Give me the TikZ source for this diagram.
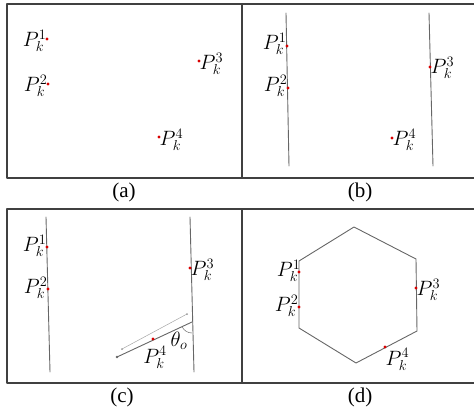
\documentclass[tikz,border=0pt]{standalone}
\usepackage{fontspec}
\setmainfont{Liberation Serif}
\begin{document}
\begin{tikzpicture}[x=1pt,y=-1pt,font=\fontsize{20}{24}\selectfont,line join=round,line cap=round,>=stealth,
  frame/.style={line width=1.4pt,black!75},
  edge/.style={line width=0.9pt,black!60},
  pt/.style={red!85!black},
  lbl/.style={inner sep=0.5pt},
  subcap/.style={font=\fontsize{21}{25}\selectfont}]
\useasboundingbox (0,0) rectangle (474,415);
% frames
\draw[frame] (474,4) -- (7,4) -- (7,178) -- (474,178);
\draw[frame] (242,4) -- (242,178);
\draw[frame] (474,209) -- (7,209) -- (7,383) -- (474,383);
\draw[frame] (242,209) -- (242,383);
\node[subcap] at (124,192) {(a)};
\node[subcap] at (360,192) {(b)};
\node[subcap] at (122,397) {(c)};
\node[subcap] at (360,397) {(d)};
% (a)
\coordinate (A1) at (47,39);
\coordinate (A2) at (48,84);
\coordinate (A3) at (199,61);
\coordinate (A4) at (159,137);
\foreach \p in {A1,A2,A3,A4} \fill[pt] (\p) circle (1.6);
\node[lbl,anchor=east] at ([yshift=-2]A1) {$P_k^1$};
\node[lbl,anchor=east] at ([yshift=-2]A2) {$P_k^2$};
\node[lbl,anchor=west] at ([yshift=-3]A3) {$P_k^3$};
\node[lbl,anchor=west] at ([yshift=-3]A4) {$P_k^4$};
% (b)
\draw[edge] (286,13) -- (289,166);
\draw[edge] (429,13) -- (433,166);
\coordinate (B1) at (287,46);
\coordinate (B2) at (288,88);
\coordinate (B3) at (430,67);
\coordinate (B4) at (392,138);
\foreach \p in {B1,B2,B3,B4} \fill[pt] (\p) circle (1.6);
\node[lbl,anchor=east] at ([yshift=2]B1) {$P_k^1$};
\node[lbl,anchor=east] at ([yshift=2]B2) {$P_k^2$};
\node[lbl,anchor=west] at ([yshift=-1]B3) {$P_k^3$};
\node[lbl,anchor=west] at ([yshift=-2]B4) {$P_k^4$};
% (c)
\draw[edge] (46,217) -- (50,372);
\draw[edge] (190,217) -- (194,372);
\coordinate (X) at (192,322);
\coordinate (Q) at (117,357);
\draw[edge] (Q) -- (X);
\fill[black!60] (Q) circle (1.3);
\draw[black!35,line width=0.5pt] (122,349) -- (187,314);
\fill[black!40] (122,349) circle (1) (187,314) circle (1);
\draw[black!55,line width=0.5pt] (X) ++(154.7:11) arc[start angle=154.7,end angle=90,radius=11];
\node at (179,341) {$\theta_o$};
\coordinate (C1) at (47,247);
\coordinate (C2) at (48,289);
\coordinate (C3) at (190,268);
\coordinate (C4) at (153,339);
\foreach \p in {C1,C2,C3,C4} \fill[pt] (\p) circle (1.6);
\node[lbl,anchor=east] at ([yshift=1]C1) {$P_k^1$};
\node[lbl,anchor=east] at ([yshift=1]C2) {$P_k^2$};
\node[lbl,anchor=west] at ([yshift=-2]C3) {$P_k^3$};
\node[lbl,anchor=north] at ([xshift=2,yshift=-7]C4) {$P_k^4$};
% (d)
\coordinate (H1) at (354,227);
\coordinate (H2) at (416,259);
\coordinate (H3) at (417,331);
\coordinate (H4) at (356,363);
\coordinate (H5) at (299,328);
\coordinate (H6) at (299,261);
\draw[edge] (H1) -- (H2) -- (H3) -- (H4) -- (H5) -- (H6) -- cycle;
\coordinate (D1) at (299,272);
\coordinate (D2) at (299,307);
\coordinate (D3) at (416,288);
\coordinate (D4) at (385,347);
\foreach \p in {D1,D2,D3,D4} \fill[pt] (\p) circle (1.6);
\node[lbl,anchor=east] at ([xshift=2,yshift=1]D1) {$P_k^1$};
\node[lbl,anchor=east] at ([yshift=1]D2) {$P_k^2$};
\node[lbl,anchor=west] at ([yshift=-2]D3) {$P_k^3$};
\node[lbl,anchor=north west] at ([yshift=-1]D4) {$P_k^4$};
\end{tikzpicture}
\end{document}
